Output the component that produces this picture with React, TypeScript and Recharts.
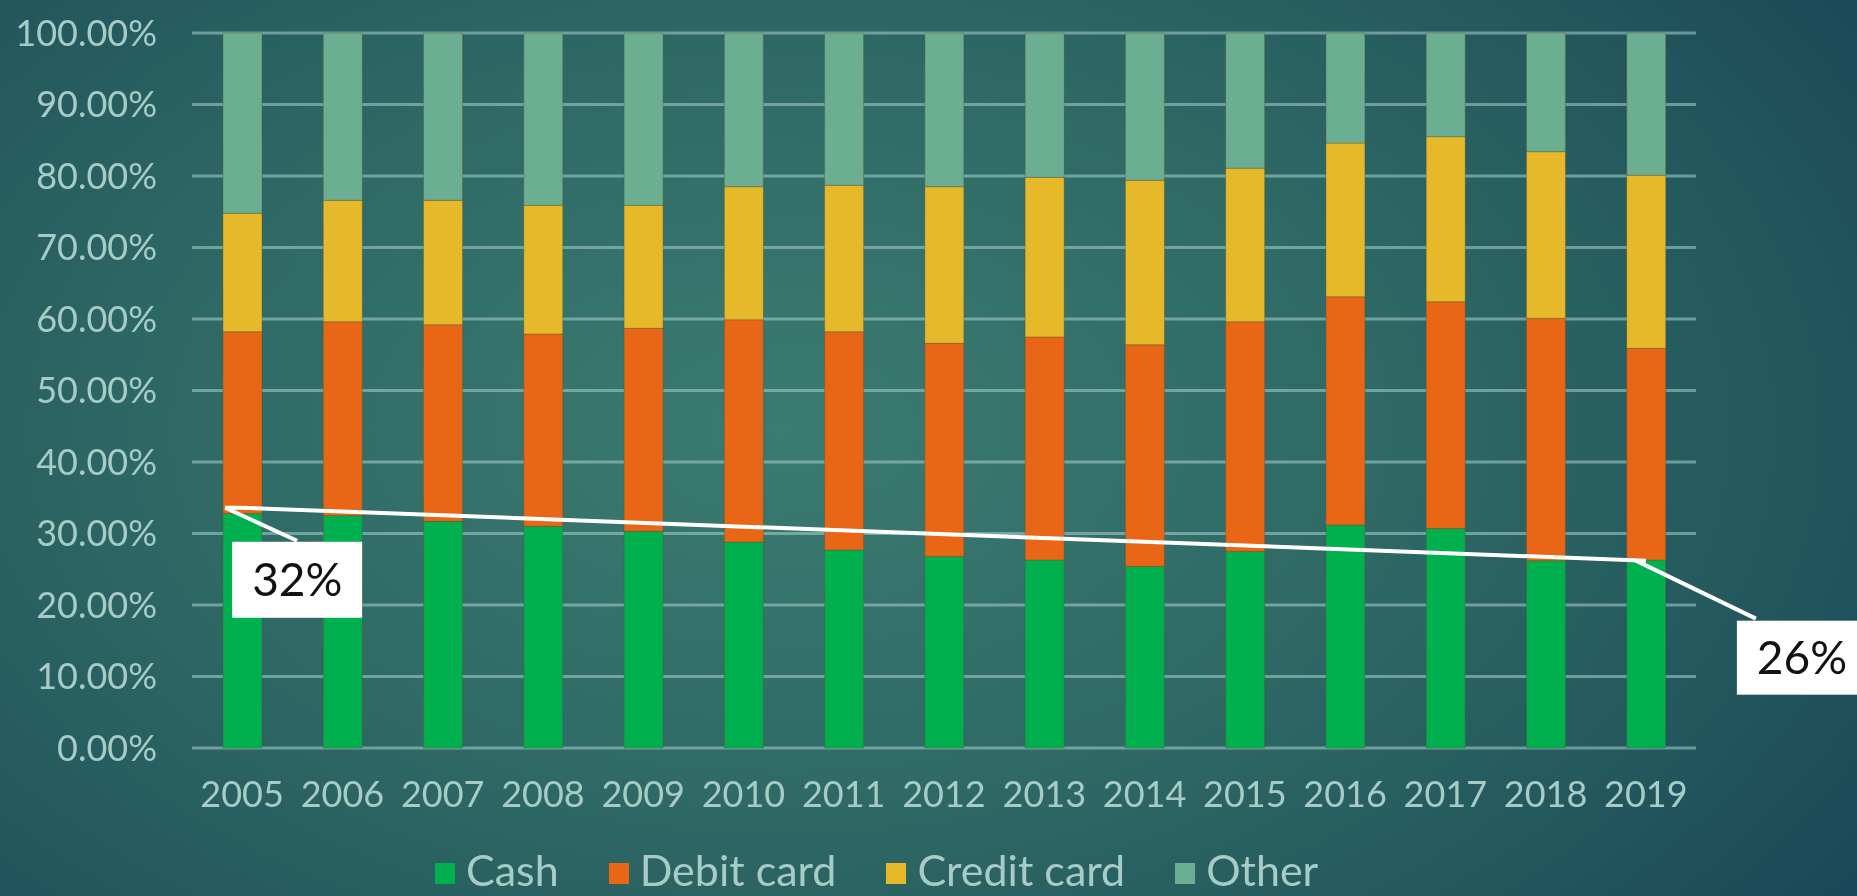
import {
  Bar,
  CartesianGrid,
  ComposedChart,
  ReferenceDot,
  ReferenceLine,
  XAxis,
  YAxis,
} from "recharts";

const years = [
  "2005", "2006", "2007", "2008", "2009", "2010", "2011", "2012",
  "2013", "2014", "2015", "2016", "2017", "2018", "2019",
];
const cash = [32.8, 32.5, 31.7, 31.0, 30.3, 28.8, 27.7, 26.8, 26.3, 25.4, 27.5, 31.2, 30.7, 26.2, 26.3];
const debitCard = [25.4, 27.1, 27.5, 26.9, 28.4, 31.1, 30.5, 29.8, 31.2, 31.0, 32.1, 31.9, 31.7, 33.9, 29.6];
const creditCard = [16.6, 17.0, 17.4, 18.0, 17.2, 18.6, 20.5, 21.9, 22.3, 23.0, 21.5, 21.5, 23.1, 23.3, 24.2];
const other = [25.2, 23.4, 23.4, 24.1, 24.1, 21.5, 21.3, 21.5, 20.2, 20.6, 18.9, 15.4, 14.5, 16.6, 19.9];
const yTicks = [0, 10, 20, 30, 40, 50, 60, 70, 80, 90, 100];

// trend annotation: cash share at the first and last year
const trendStart = { year: "2005", value: 33.6, label: "32%" };
const trendEnd = { year: "2019", value: 26.2, label: "26%" };

const series = [
  { key: "cash", name: "Cash", color: "#00b04f" },
  { key: "debit", name: "Debit card", color: "#e86616" },
  { key: "credit", name: "Credit card", color: "#e6b92b" },
  { key: "other", name: "Other", color: "#6bae92" },
];

const data = years.map((year, i) => ({
  year,
  cash: cash[i],
  debit: debitCard[i],
  credit: creditCard[i],
  other: other[i],
}));

const FONT = "Lato, 'Open Sans', sans-serif";
const TEXT = "#a7cbc5";

function Callout({
  cx,
  cy,
  text,
  lead,
  box,
  tail,
}: {
  cx?: number;
  cy?: number;
  text: string;
  lead: [number, number, number, number];
  box: [number, number, number, number];
  tail?: number;
}) {
  if (cx == null || cy == null) return null;
  const [bx, by, bw, bh] = box;
  return (
    <g>
      {tail ? (
        <line x1={cx + tail} y1={cy} x2={cx} y2={cy} stroke="#ffffff" strokeWidth={4} />
      ) : null}
      <line
        x1={cx + lead[0]}
        y1={cy + lead[1]}
        x2={cx + lead[2]}
        y2={cy + lead[3]}
        stroke="#ffffff"
        strokeWidth={4}
      />
      <rect x={cx + bx} y={cy + by} width={bw} height={bh} fill="#ffffff" />
      <text
        x={cx + bx + 20}
        y={cy + by + bh / 2}
        dy="0.36em"
        textAnchor="start"
        fontFamily={FONT}
        fontSize={46}
        fill="#111111"
      >
        {text}
      </text>
    </g>
  );
}

export default function App() {
  return (
    <div
      style={{
        position: "fixed",
        left: 0,
        top: 0,
        width: 1857,
        height: 896,
        overflow: "hidden",
        background:
          "radial-gradient(ellipse 70% 90% at 42% 48%, #3b7b71 0%, #2f6a66 45%, #24595e 75%, #1b4858 100%)",
        fontFamily: FONT,
      }}
    >
      <ComposedChart
        width={1857}
        height={896}
        data={data}
        margin={{ top: 33, right: 161, bottom: 88, left: 0 }}
        barSize={39}
      >
        <CartesianGrid vertical={false} stroke="rgba(170, 210, 205, 0.55)" strokeWidth={3} />
        <XAxis
          dataKey="year"
          axisLine={false}
          tickLine={false}
          tickSize={0}
          tickMargin={33}
          height={60}
          tick={{ fill: TEXT, fontSize: 36, fontFamily: FONT }}
          interval={0}
        />
        <YAxis
          domain={[0, 100]}
          ticks={yTicks}
          width={192}
          axisLine={false}
          tickLine={false}
          tickSize={0}
          tickMargin={35}
          tickFormatter={(v: number) => `${v.toFixed(2)}%`}
          tick={{ fill: TEXT, fontSize: 36, fontFamily: FONT }}
        />
        {series.map((s) => (
          <Bar
            key={s.key}
            dataKey={s.key}
            name={s.name}
            stackId="share"
            fill={s.color}
            stroke="rgba(90, 80, 40, 0.35)"
            strokeWidth={1}
            isAnimationActive={false}
          />
        ))}
        <ReferenceLine
          segment={[
            { x: trendStart.year, y: trendStart.value },
            { x: trendEnd.year, y: trendEnd.value },
          ]}
          stroke="#ffffff"
          strokeWidth={4}
        />
        <ReferenceDot
          x={trendStart.year}
          y={trendStart.value}
          r={0}
          shape={(p: any) => (
            <Callout
              cx={p.cx}
              cy={p.cy}
              text={trendStart.label}
              tail={-17}
              lead={[-17, 0, 55, 33]}
              box={[-10, 34, 130, 76]}
            />
          )}
        />
        <ReferenceDot
          x={trendEnd.year}
          y={trendEnd.value}
          r={0}
          shape={(p: any) => (
            <Callout
              cx={p.cx}
              cy={p.cy}
              text={trendEnd.label}
              lead={[-10, 0, 110, 58]}
              box={[91, 60, 140, 74]}
            />
          )}
        />
      </ComposedChart>
      <div
        style={{
          position: "absolute",
          left: 435,
          top: 848,
          display: "flex",
          alignItems: "flex-start",
          fontSize: 43,
          lineHeight: "44px",
          color: TEXT,
          whiteSpace: "nowrap",
        }}
      >
        {series.map((s) => (
          <div key={s.key} style={{ display: "flex", alignItems: "flex-start", marginRight: 50 }}>
            <span style={{ width: 20, height: 21, background: s.color, marginRight: 11, marginTop: 15 }} />
            {s.name}
          </div>
        ))}
      </div>
    </div>
  );
}
